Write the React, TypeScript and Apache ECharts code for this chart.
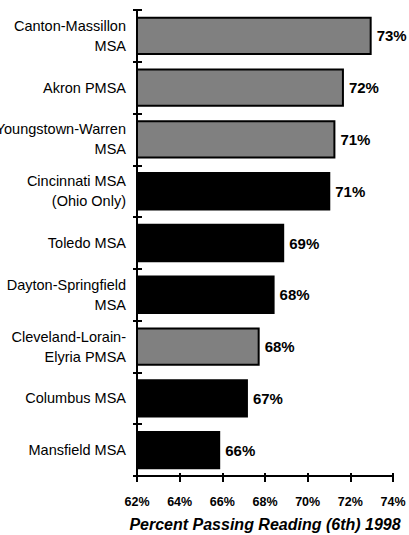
import React, { useEffect, useRef } from "react";
import * as echarts from "echarts";

const categories = [
  "Canton-Massillon\nMSA",
  "Akron PMSA",
  "Youngstown-Warren\nMSA",
  "Cincinnati MSA\n(Ohio Only)",
  "Toledo MSA",
  "Dayton-Springfield\nMSA",
  "Cleveland-Lorain-\nElyria PMSA",
  "Columbus MSA",
  "Mansfield MSA",
];
const values = [73.0, 71.7, 71.3, 71.06, 68.9, 68.45, 67.75, 67.2, 65.9];
const shades = ["gray", "gray", "gray", "black", "black", "black", "gray", "black", "black"];
const xTicks = { min: 62, max: 74, interval: 2 };
const axisTitle = "Percent Passing Reading (6th) 1998";

const BOLD = "'Liberation Sans', Arial, sans-serif";
const REG = "'Liberation Sans', Arial, sans-serif";

export default function App() {
  const ref = useRef<HTMLDivElement>(null);
  useEffect(() => {
    if (!ref.current) return;
    const chart = echarts.init(ref.current, undefined, { renderer: "svg" });
    const colorOf = (s: string) => (s === "gray" ? "#808080" : "#000000");
    chart.setOption({
      animation: false,
      backgroundColor: "#ffffff",
      grid: { left: 137, right: 16, top: 10, bottom: 59, containLabel: false, outerBoundsMode: "none" },
      xAxis: [
        {
          type: "value",
          min: xTicks.min,
          max: xTicks.max,
          interval: xTicks.interval,
          splitLine: { show: false },
          axisLine: { show: true, lineStyle: { color: "#000", width: 2 } },
          axisTick: { show: true, inside: false, length: 6, lineStyle: { color: "#000", width: 2 } },
          axisLabel: {
            formatter: (v: number) => `${v}%`,
            fontFamily: BOLD,
            fontWeight: "bold",
            fontSize: 12.5,
            color: "#000",
            margin: 19,
          },
          name: axisTitle,
          nameLocation: "middle",
          nameGap: 40,
          nameTextStyle: {
            fontFamily: BOLD,
            fontWeight: "bold",
            fontStyle: "italic",
            fontSize: 16,
            color: "#000",
          },
        },
        {
          type: "value",
          min: xTicks.min,
          max: xTicks.max,
          interval: xTicks.interval,
          position: "bottom",
          splitLine: { show: false },
          axisLine: { show: false },
          axisTick: { show: true, inside: true, length: 3, lineStyle: { color: "#000", width: 2 } },
          axisLabel: { show: false },
        },
      ],
      yAxis: [
        {
          type: "category",
          data: categories,
          inverse: true,
          axisLine: { show: true, lineStyle: { color: "#000", width: 2 } },
          axisTick: { show: true, inside: false, length: 4, lineStyle: { color: "#000", width: 2 } },
          axisLabel: {
            fontFamily: REG,
            fontSize: 14.5,
            lineHeight: 20,
            color: "#000",
            margin: 11,
            align: "right",
          },
        },
        {
          type: "category",
          data: categories,
          inverse: true,
          position: "left",
          axisLine: { show: false },
          axisTick: { show: true, inside: true, length: 5, lineStyle: { color: "#000", width: 2 } },
          axisLabel: { show: false },
        },
      ],
      series: [
        {
          type: "bar",
          xAxisIndex: 0,
          yAxisIndex: 0,
          barCategoryGap: "26%",
          data: values.map((v, i) => ({
            value: v,
            itemStyle: { color: colorOf(shades[i]), borderColor: "#000", borderWidth: 2 },
          })),
          label: {
            show: true,
            position: "right",
            distance: 5,
            formatter: (p: any) => `${Math.round(p.value)}%`,
            fontFamily: BOLD,
            fontWeight: "bold",
            fontSize: 15,
            color: "#000",
          },
        },
      ],
    });
    return () => chart.dispose();
  }, []);
  return (
    <div
      ref={ref}
      style={{ position: "absolute", left: 0, top: 0, width: 409, height: 535, background: "#fff" }}
    />
  );
}
